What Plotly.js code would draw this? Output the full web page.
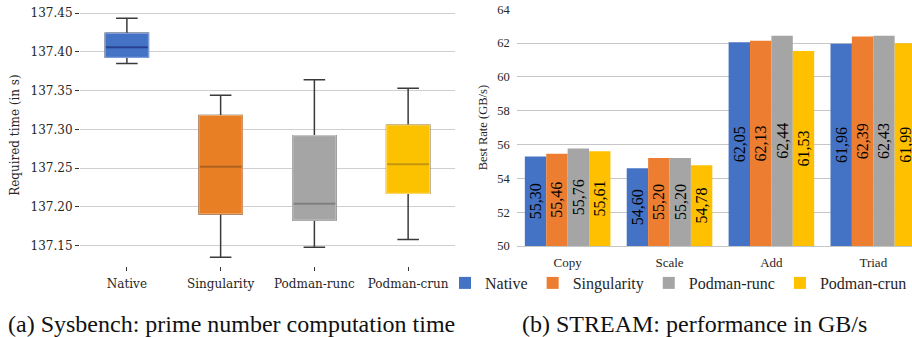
<!DOCTYPE html>
<html>
<head>
<meta charset="utf-8">
<script src="https://cdn.plot.ly/plotly-3.0.1.min.js"></script>
<style>
  html, body { margin: 0; padding: 0; background: #fff; width: 912px; height: 337px; overflow: hidden; position: relative; }
  #chart { position: absolute; left: 0; top: 0; width: 912px; height: 300px; }
  .cap { position: absolute; top: 309px; font-family: "Liberation Serif", "Times New Roman", serif; font-size: 24px; color: #111; white-space: nowrap; line-height: 30px; }
  #capA { left: 8px; }
  #capB { left: 522px; }
</style>
</head>
<body>
<div id="chart"></div>
<div class="cap" id="capA">(a) Sysbench: prime number computation time</div>
<div class="cap" id="capB">(b) STREAM: performance in GB/s</div>
<script>
// ---------- Data: (a) Sysbench box plot ----------
const boxCategories = ['Native', 'Singularity', 'Podman-runc', 'Podman-crun'];
const boxLowerWhisker = [137.385, 137.135, 137.148, 137.158];
const boxQ1 = [137.393, 137.191, 137.183, 137.2175];
const boxMedian = [137.406, 137.252, 137.204, 137.255];
const boxQ3 = [137.424, 137.318, 137.292, 137.3055];
const boxUpperWhisker = [137.4436, 137.344, 137.364, 137.353];
const sysbenchTicks = [137.15, 137.20, 137.25, 137.30, 137.35, 137.40, 137.45];

// ---------- Data: (b) STREAM bars ----------
const streamCategories = ['Copy', 'Scale', 'Add', 'Triad'];
const seriesNames = ['Native', 'Singularity', 'Podman-runc', 'Podman-crun'];
const nativeRate = [55.30, 54.60, 62.05, 61.96];
const singularityRate = [55.46, 55.20, 62.13, 62.39];
const podmanRuncRate = [55.76, 55.20, 62.44, 62.43];
const podmanCrunRate = [55.61, 54.78, 61.53, 61.99];
const streamTicks = [50, 52, 54, 56, 58, 60, 62, 64];
const streamAxisMin = 50;

// ---------- Styles ----------
const fillColors = ['#4472C4', '#E97F24', '#A5A5A5', '#FCC200'];
const edgeColors = ['#7C9BDA', '#F2A96A', '#C4C4C4', '#FDD766'];
const medianColors = ['#27408F', '#B0601E', '#7E7E7E', '#C4960C'];
const barColors = ['#4472C4', '#ED7D31', '#A5A5A5', '#FFC000'];
const textDark = '#262626';
const serifA = 'DejaVu Serif, serif';
const serifB = 'Liberation Serif, Times New Roman, serif';

const traces = [];

// ---------- Panel A: boxes ----------
boxCategories.forEach((c, i) => {
  traces.push({
    type: 'box', x: [c], xaxis: 'x', yaxis: 'y',
    q1: [boxQ1[i]], median: [boxMedian[i]], q3: [boxQ3[i]],
    lowerfence: [boxLowerWhisker[i]], upperfence: [boxUpperWhisker[i]],
    width: 0.46, whiskerwidth: 0.5,
    fillcolor: fillColors[i],
    line: { color: '#3a3a3a', width: 1.5 },
    boxpoints: false, showlegend: false, hoverinfo: 'skip'
  });
  traces.push({
    type: 'box', x: [c], xaxis: 'x', yaxis: 'y',
    q1: [boxQ1[i]], median: [boxMedian[i]], q3: [boxQ3[i]],
    lowerfence: [boxQ1[i]], upperfence: [boxQ3[i]],
    width: 0.46, whiskerwidth: 0,
    fillcolor: fillColors[i],
    line: { color: edgeColors[i], width: 1.2 },
    boxpoints: false, showlegend: false, hoverinfo: 'skip'
  });
});
traces.push({
  type: 'scatter', mode: 'markers', xaxis: 'x', yaxis: 'y',
  x: boxCategories, y: boxMedian,
  marker: { symbol: 'line-ew', size: 30, line: { color: medianColors, width: 2 } },
  showlegend: false, hoverinfo: 'skip'
});

// ---------- Panel B: bars ----------
const rates = [nativeRate, singularityRate, podmanRuncRate, podmanCrunRate];
seriesNames.forEach((n, i) => {
  traces.push({
    type: 'bar', name: n, xaxis: 'x2', yaxis: 'y2',
    x: streamCategories,
    base: streamAxisMin,
    y: rates[i].map(v => v - streamAxisMin),
    text: rates[i].map(v => v.toFixed(2).replace('.', ',')),
    texttemplate: '%{text}',
    marker: { color: barColors[i], line: { width: 0 } },
    textposition: 'inside', insidetextanchor: 'middle',
    textangle: -90, constraintext: 'none',
    textfont: { family: serifB, size: 16, color: '#000' },
    hoverinfo: 'skip'
  });
});

const layout = {
  width: 912, height: 300,
  margin: { l: 0, r: 0, t: 0, b: 0 },
  paper_bgcolor: '#fff', plot_bgcolor: '#fff',
  boxmode: 'overlay',
  barmode: 'group', bargap: 0.16, bargroupgap: 0,
  font: { family: serifA, size: 12, color: textDark },
  xaxis: {
    domain: [80 / 912, 455 / 912], anchor: 'y',
    type: 'category', range: [-0.5, 3.5],
    showgrid: false, zeroline: false, showline: false,
    ticks: 'outside', ticklen: 4, tickcolor: '#333', tickwidth: 1,
    tickfont: { family: serifA, size: 12, color: textDark },
    ticklabelstandoff: 2,
    fixedrange: true
  },
  yaxis: {
    domain: [1 - 268 / 300, 1 - 4 / 300], anchor: 'x',
    range: [137.1235, 137.4619],
    tickvals: sysbenchTicks, ticktext: sysbenchTicks.map(v => v.toFixed(2)),
    showgrid: true, gridcolor: '#cfcfcf', gridwidth: 1,
    zeroline: false, showline: false,
    ticks: 'outside', ticklen: 4, tickcolor: '#333', tickwidth: 1,
    tickfont: { family: serifA, size: 12, color: textDark },
    title: { text: 'Required time (in s)', font: { family: serifA, size: 12, color: textDark }, standoff: 8 },
    fixedrange: true
  },
  xaxis2: {
    domain: [516.7 / 912, 1], anchor: 'y2',
    type: 'category', range: [-0.5, 3.38],
    showgrid: false, zeroline: false,
    showline: true, linecolor: '#c6c6c6', linewidth: 1,
    ticks: '', tickfont: { family: serifB, size: 13, color: textDark },
    ticklabelstandoff: 4,
    fixedrange: true
  },
  yaxis2: {
    domain: [1 - 247.7 / 300, 1 - 9.3 / 300], anchor: 'x2',
    range: [50, 64], tickvals: streamTicks,
    showgrid: true, gridcolor: '#c6c6c6', gridwidth: 1,
    zeroline: false, showline: false, ticks: '',
    tickfont: { family: serifB, size: 12.5, color: textDark },
    ticklabelstandoff: 6,
    title: { text: 'Best Rate (GB/s)', font: { family: serifB, size: 12.5, color: textDark }, standoff: 6 },
    fixedrange: true
  },
  showlegend: true,
  legend: {
    orientation: 'h', x: 1, xanchor: 'right', y: 1 - 285 / 300, yanchor: 'middle',
    font: { family: serifB, size: 16, color: textDark },
    itemwidth: 30, bgcolor: 'rgba(0,0,0,0)', traceorder: 'normal'
  }
};

Plotly.newPlot('chart', traces, layout, { displayModeBar: false, staticPlot: true });
</script>
</body>
</html>
